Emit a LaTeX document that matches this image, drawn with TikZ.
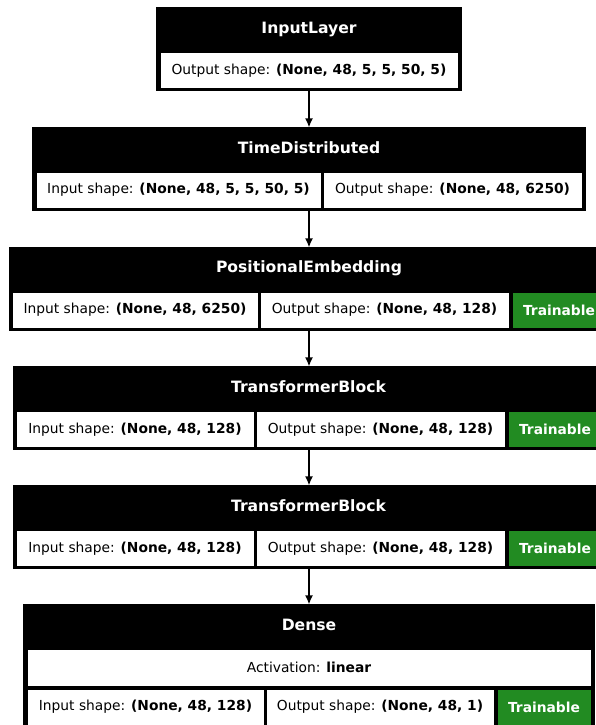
\documentclass[tikz,border=0pt]{standalone}
\usepackage{fontspec}
\setmainfont{DejaVu Sans}
\usepackage{xcolor}
\usetikzlibrary{arrows.meta}
\definecolor{trainGreen}{HTML}{228B22}
\newcommand{\bodyfont}{\fontsize{13.8}{16}\selectfont}
\newcommand{\titlefont}{\fontsize{15.6}{18}\selectfont\bfseries}

\begin{document}
\begin{tikzpicture}[x=1pt, y=-1pt,
    block/.style = {draw=black, fill=black, line width=1.2pt, inner sep=0pt},
    title/.style = {text=white, font=\titlefont, inner sep=0pt},
    cell/.style = {draw=black, fill=white, line width=1pt, inner sep=0pt, minimum height=36pt, font=\bodyfont},
    train/.style = {cell, fill=trainGreen, text=white, font=\bodyfont\bfseries},
    flow/.style = {line width=1.5pt, -{Latex[length=9pt,width=8pt]}}]
        \useasboundingbox (0,0) rectangle (595,725);
        % InputLayer
        \node[block, minimum width=304pt, minimum height=82pt] (inp) at (309,49) {};
        \node[title] (inpT) at (309,29) {InputLayer};
        \node[cell, minimum width=298pt, minimum height=35pt] (inpO) at (309,70.5) {Output shape: \textbf{(None, 48, 5, 5, 50, 5)}};
        % TimeDistributed
        \node[block, minimum width=552pt, minimum height=82pt] (td) at (309,169) {};
        \node[title] (tdT) at (309,148) {TimeDistributed};
        \node[cell, minimum width=285pt] (tdI) at (178.5,190) {Input shape: \textbf{(None, 48, 5, 5, 50, 5)}};
        \node[cell, minimum width=259pt] (tdO) at (452.5,190) {Output shape: \textbf{(None, 48, 6250)}};
        % PositionalEmbedding
        \node[block, minimum width=598pt, minimum height=82pt] (pe) at (309,289) {};
        \node[title] (peT) at (309,268) {PositionalEmbedding};
        \node[cell, minimum width=246pt] (peI) at (135,310) {Input shape: \textbf{(None, 48, 6250)}};
        \node[cell, minimum width=249pt] (peO) at (384.5,310) {Output shape: \textbf{(None, 48, 128)}};
        \node[train, minimum width=94pt] (peG) at (559,310) {Trainable};
        % TransformerBlock 1
        \node[block, minimum width=589pt, minimum height=82pt] (tbA) at (308.5,408) {};
        \node[title] (tbAT) at (308.5,387) {TransformerBlock};
        \node[cell, minimum width=238pt] (tbAI) at (135,429.5) {Input shape: \textbf{(None, 48, 128)}};
        \node[cell, minimum width=249pt] (tbAO) at (380.5,429.5) {Output shape: \textbf{(None, 48, 128)}};
        \node[train, minimum width=94pt] (tbAG) at (555,429.5) {Trainable};
        % TransformerBlock 2
        \node[block, minimum width=589pt, minimum height=82pt] (tbB) at (308.5,527) {};
        \node[title] (tbBT) at (308.5,506) {TransformerBlock};
        \node[cell, minimum width=238pt] (tbBI) at (135,548.5) {Input shape: \textbf{(None, 48, 128)}};
        \node[cell, minimum width=249pt] (tbBO) at (380.5,548.5) {Output shape: \textbf{(None, 48, 128)}};
        \node[train, minimum width=94pt] (tbBG) at (555,548.5) {Trainable};
        % Dense
        \node[block, minimum width=570pt, minimum height=122pt] (dn) at (309,666) {};
        \node[title] (dnT) at (309,625) {Dense};
        \node[cell, minimum width=564pt, minimum height=37pt] (dnA) at (309,667.5) {Activation: \textbf{linear}};
        \node[cell, minimum width=237pt] (dnI) at (145.5,707) {Input shape: \textbf{(None, 48, 128)}};
        \node[cell, minimum width=228pt] (dnO) at (380,707) {Output shape: \textbf{(None, 48, 1)}};
        \node[train, minimum width=94pt] (dnG) at (544,707) {Trainable};
        % arrows
        \draw[flow] (inp.south) -- (td.north);
        \draw[flow] (td.south) -- (pe.north);
        \draw[flow] (pe.south) -- (pe.south |- tbA.north);
        \draw[flow] (tbA.south -| pe.south) -- (pe.south |- tbB.north);
        \draw[flow] (tbB.south -| pe.south) -- (dn.north);
\end{tikzpicture}
\end{document}
